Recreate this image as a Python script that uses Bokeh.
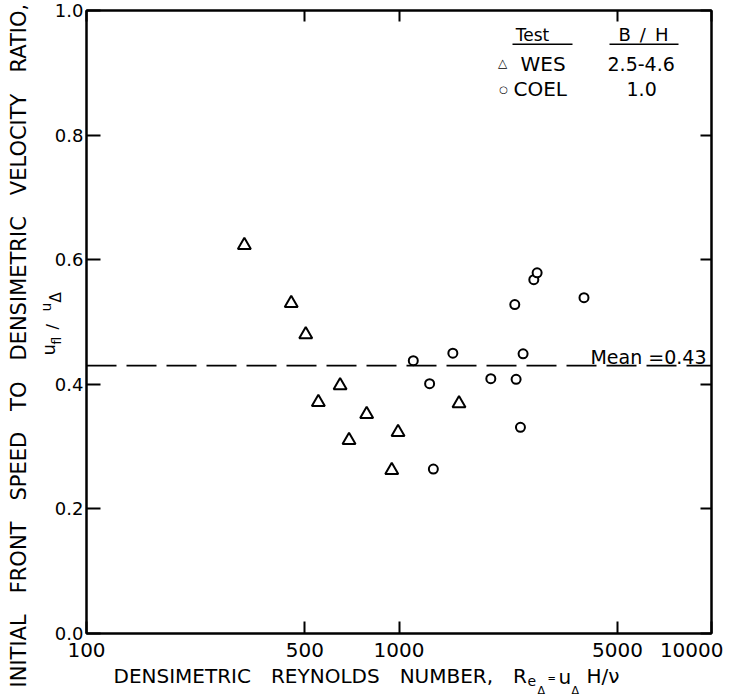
import math
from bokeh.plotting import figure
from bokeh.models import (Span, Label, FixedTicker, LogAxis, LinearAxis, Range1d,
                          BoxAnnotation, PrintfTickFormatter, CustomJSTickFormatter)
from bokeh.embed import file_html
from bokeh.resources import INLINE

# ---------------- data ----------------
wes_re = [320, 452, 503, 552, 648, 692, 788, 948, 993, 1556]
wes_ratio = [0.623, 0.530, 0.480, 0.371, 0.398, 0.310, 0.352, 0.262, 0.323, 0.369]

coel_re = [1111, 1253, 1288, 1487, 1967, 2347, 2370, 2447, 2495, 2700, 2767, 3908]
coel_ratio = [0.438, 0.401, 0.264, 0.450, 0.409, 0.528, 0.408, 0.331, 0.449, 0.568, 0.579, 0.539]

mean_ratio = 0.43

x_ticks = [100, 500, 1000, 5000, 10000]
y_ticks = [0.0, 0.2, 0.4, 0.6, 0.8, 1.0]

legend_tests = ["WES", "COEL"]
legend_bh = ["2.5-4.6", "1.0"]

FONT = "DejaVu Sans"
W, H = 733, 698

# frame position on the canvas (layout only)
FRAME_L, FRAME_R, FRAME_T, FRAME_B = 86, 711, 10, 633

p = figure(width=W, height=H, x_axis_type="log",
           x_range=(x_ticks[0], x_ticks[-1]), y_range=(y_ticks[0], y_ticks[-1]),
           output_backend="svg", toolbar_location=None,
           min_border_left=FRAME_L, min_border_right=W - FRAME_R,
           min_border_top=FRAME_T, min_border_bottom=H - FRAME_B)
p.grid.visible = False
p.background_fill_color = "white"
p.border_fill_color = "white"
p.outline_line_color = "black"
p.outline_line_width = 2

# bottom axis
xa = p.xaxis[0]
xa.ticker = FixedTicker(ticks=x_ticks, minor_ticks=[])
xa.formatter = CustomJSTickFormatter(code="""
    const s = Math.round(tick).toString();
    return (tick >= 9999) ? s + "\\u2002" : s;
""")
xa.major_tick_in = 12
xa.major_tick_out = 0
xa.minor_tick_in = 0
xa.minor_tick_out = 0
xa.major_tick_line_width = 2
xa.axis_line_width = 2
xa.major_label_text_font = FONT
xa.major_label_text_font_size = "20px"
xa.major_label_standoff = 4
xa.major_label_text_color = "black"

# left axis
ya = p.yaxis[0]
ya.ticker = FixedTicker(ticks=y_ticks, minor_ticks=[])
ya.formatter = PrintfTickFormatter(format="%.1f")
ya.major_tick_in = 14
ya.major_tick_out = 0
ya.minor_tick_in = 0
ya.minor_tick_out = 0
ya.major_tick_line_width = 2
ya.axis_line_width = 2
ya.major_label_text_font = FONT
ya.major_label_text_font_size = "18px"
ya.major_label_standoff = 3
ya.major_label_text_color = "black"

# top and right axes: ticks only
blank = CustomJSTickFormatter(code="return '';")
top = LogAxis(ticker=FixedTicker(ticks=x_ticks, minor_ticks=[]), formatter=blank,
              major_tick_in=11, major_tick_out=0, minor_tick_in=0, minor_tick_out=0,
              major_tick_line_width=2, axis_line_width=2, major_label_standoff=0)
p.add_layout(top, "above")
right = LinearAxis(ticker=FixedTicker(ticks=y_ticks, minor_ticks=[]), formatter=blank,
                   major_tick_in=11, major_tick_out=0, minor_tick_in=0, minor_tick_out=0,
                   major_tick_line_width=2, axis_line_width=2, major_label_standoff=0)
p.add_layout(right, "right")

# mean line
p.add_layout(Span(location=mean_ratio, dimension="width", line_color="black",
                  line_width=1.6, line_dash="30 10"))
p.add_layout(Label(x=x_ticks[-1], y=mean_ratio, text=f"Mean ={mean_ratio:.2f}",
                   text_align="right", text_baseline="middle",
                   x_offset=-5, y_offset=9, text_font=FONT, text_font_size="19px",
                   text_color="black"))

# data
p.scatter(wes_re, wes_ratio, marker="triangle", size=13, fill_color="white",
          line_color="black", line_width=2)
p.scatter(coel_re, coel_ratio, marker="circle", size=9, fill_color="white",
          line_color="black", line_width=2)


def lab(text, X, Y, size, align="left"):
    """Label inside the frame, placed by canvas pixel (X, Y), Y = glyph centre."""
    p.add_layout(Label(x=X - FRAME_L, y=FRAME_B - Y, x_units="screen", y_units="screen",
                       text=text, text_font=FONT, text_font_size=f"{size}px",
                       text_align=align, text_baseline="middle", text_color="black"))


def uline(X0, X1, Y):
    p.add_layout(BoxAnnotation(left=X0 - FRAME_L, right=X1 - FRAME_L,
                               top=FRAME_B - Y, bottom=FRAME_B - Y - 1.6,
                               left_units="screen", right_units="screen",
                               top_units="screen", bottom_units="screen",
                               fill_color="black", fill_alpha=1.0, line_color=None))


# legend (table)
lab("Test", 532, 34, 17, align="center")
lab("B\u2002/\u2002H", 643, 34, 18, align="center")
uline(512, 572, 43)
uline(609, 678, 43)
lab("\u25b3", 502, 62, 12, align="center")
lab(legend_tests[0], 520, 63.5, 20)
lab(legend_bh[0], 607, 63.5, 19)
lab("\u25cb", 503, 88.5, 10, align="center")
lab(legend_tests[1], 513, 88.5, 20)
lab(legend_bh[1], 626, 88.5, 19)

# ---------------- overlay canvas for the axis titles (outside the frame) ----------------
ov = figure(width=W, height=H, x_range=Range1d(0, W), y_range=Range1d(H, 0),
            output_backend="svg", toolbar_location=None, min_border=0,
            x_axis_location=None, y_axis_location=None)
ov.grid.visible = False
ov.outline_line_color = None
ov.background_fill_alpha = 0
ov.border_fill_alpha = 0
ov.styles = {"position": "absolute", "left": "0px", "top": "0px"}


def olab(text, X, Y, size, angle=0.0):
    ov.add_layout(Label(x=X, y=Y, text=text, text_font=FONT, text_font_size=f"{size}px",
                        text_align="left", text_baseline="middle", angle=angle,
                        text_color="black"))


# x axis title
sp = "\u2002\u2002"
olab(f"DENSIMETRIC{sp}REYNOLDS{sp}NUMBER,{sp}R", 113, 675.5, 20)
olab("e", 527, 680, 14)
olab("\u0394", 537, 689.5, 11)
olab("=", 547, 678, 10)
olab("u", 558, 676, 20)
olab("\u0394", 571, 689.5, 11)
olab("H/\u03bd", 586, 675.5, 20)

# y axis title (rotated, reads bottom to top)
R90 = math.pi / 2
gy = "\u2002\u2002"
olab(f"INITIAL{gy}FRONT{gy}SPEED{gy}TO{gy}DENSIMETRIC{gy}VELOCITY{gy}RATIO,", 18.5, 687, 21, angle=R90)
olab("u", 48, 355, 18, angle=R90)
olab("fl", 56.5, 344, 12, angle=R90)
olab("/", 52, 329, 16, angle=R90)
olab("u", 45, 311, 14, angle=R90)
olab("\u0394", 55, 302, 15, angle=R90)

open("out.html", "w").write(file_html([p, ov], INLINE))
